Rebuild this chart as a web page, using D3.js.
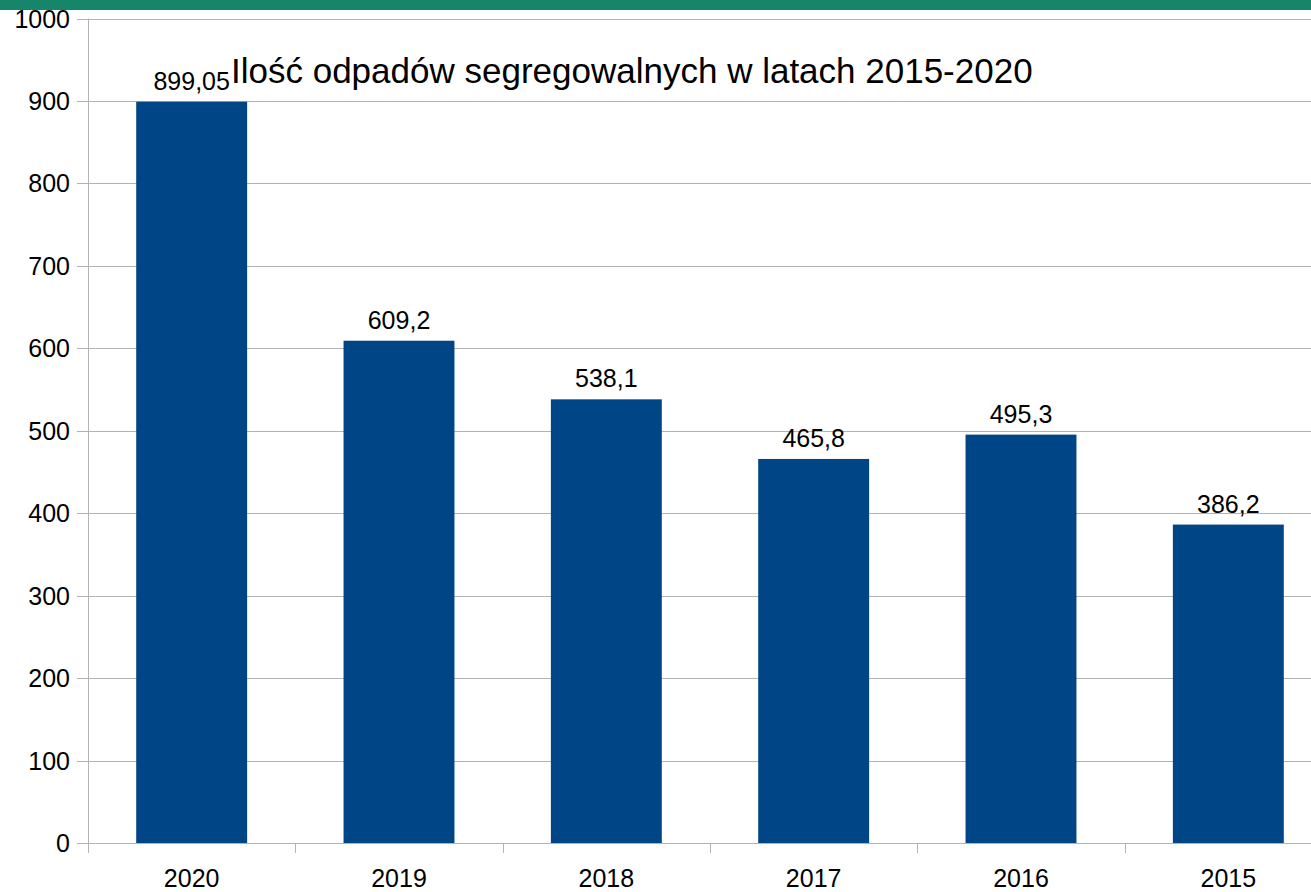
<!DOCTYPE html>
<html>
<head>
<meta charset="utf-8">
<script src="https://cdn.jsdelivr.net/npm/d3@7"></script>
<style>
  html, body { margin: 0; padding: 0; background: #fff; overflow: hidden; }
  svg { display: block; font-family: "Liberation Sans", Arial, sans-serif; }
</style>
</head>
<body>
<svg id="chart" width="1311" height="892"></svg>
<script>
const years = ['2020', '2019', '2018', '2017', '2016', '2015'];
const amounts = [899.05, 609.2, 538.1, 465.8, 495.3, 386.2];
const amountLabels = ['899,05', '609,2', '538,1', '465,8', '495,3', '386,2'];
const yTicks = [0, 100, 200, 300, 400, 500, 600, 700, 800, 900, 1000];
const title = 'Ilość odpadów segregowalnych w latach 2015-2020';

const svg = d3.select('#chart');

// zielony pasek u góry
svg.append('rect')
  .attr('x', 0).attr('y', 0)
  .attr('width', 1311).attr('height', 10)
  .attr('fill', '#178569');

const plotLeft = 88, plotRight = 1332, plotTop = 18.5, plotBottom = 843;

const x = d3.scaleBand()
  .domain(years)
  .range([plotLeft, plotRight])
  .paddingInner(0.465)
  .paddingOuter(0.2325);

const xEdges = d3.scaleLinear().domain([0, years.length]).range([plotLeft, plotRight]);

const y = d3.scaleLinear().domain([0, 1000]).range([plotBottom, plotTop]);

// siatka
svg.append('g')
  .selectAll('line')
  .data(yTicks)
  .join('line')
    .attr('x1', 77).attr('x2', plotRight)
    .attr('y1', d => Math.round(y(d)) + 0.5)
    .attr('y2', d => Math.round(y(d)) + 0.5)
    .attr('stroke', '#b3b3b3')
    .attr('stroke-width', 1);

// oś Y
svg.append('line')
  .attr('x1', plotLeft + 0.5).attr('x2', plotLeft + 0.5)
  .attr('y1', plotTop).attr('y2', plotBottom + 10)
  .attr('stroke', '#b3b3b3');

// znaczniki kategorii
svg.append('g')
  .selectAll('line')
  .data(d3.range(years.length + 1))
  .join('line')
    .attr('x1', d => Math.round(xEdges(d)) + 0.5)
    .attr('x2', d => Math.round(xEdges(d)) + 0.5)
    .attr('y1', plotBottom).attr('y2', plotBottom + 10)
    .attr('stroke', '#b3b3b3');

// słupki
svg.append('g')
  .selectAll('rect')
  .data(amounts)
  .join('rect')
    .attr('x', (d, i) => x(years[i]))
    .attr('width', x.bandwidth())
    .attr('y', d => y(d))
    .attr('height', d => plotBottom - y(d))
    .attr('fill', '#004586');

// etykiety osi Y
svg.append('g')
  .selectAll('text')
  .data(yTicks)
  .join('text')
    .attr('x', 70)
    .attr('y', d => y(d))
    .attr('dy', '0.36em')
    .attr('text-anchor', 'end')
    .attr('font-size', 25)
    .attr('fill', '#000')
    .text(d => d);

// etykiety osi X
svg.append('g')
  .selectAll('text')
  .data(years)
  .join('text')
    .attr('x', d => x(d) + x.bandwidth() / 2)
    .attr('y', 878)
    .attr('dy', '0.36em')
    .attr('text-anchor', 'middle')
    .attr('font-size', 25)
    .attr('fill', '#000')
    .text(d => d);

// wartości nad słupkami
svg.append('g')
  .selectAll('text')
  .data(amounts)
  .join('text')
    .attr('x', (d, i) => x(years[i]) + x.bandwidth() / 2)
    .attr('y', d => y(d) - 12)
    .attr('text-anchor', 'middle')
    .attr('font-size', 25)
    .attr('fill', '#000')
    .text((d, i) => amountLabels[i]);

// tytuł
svg.append('text')
  .attr('x', 231)
  .attr('y', 83)
  .attr('font-size', 35)
  .attr('fill', '#000')
  .text(title);
</script>
</body>
</html>
